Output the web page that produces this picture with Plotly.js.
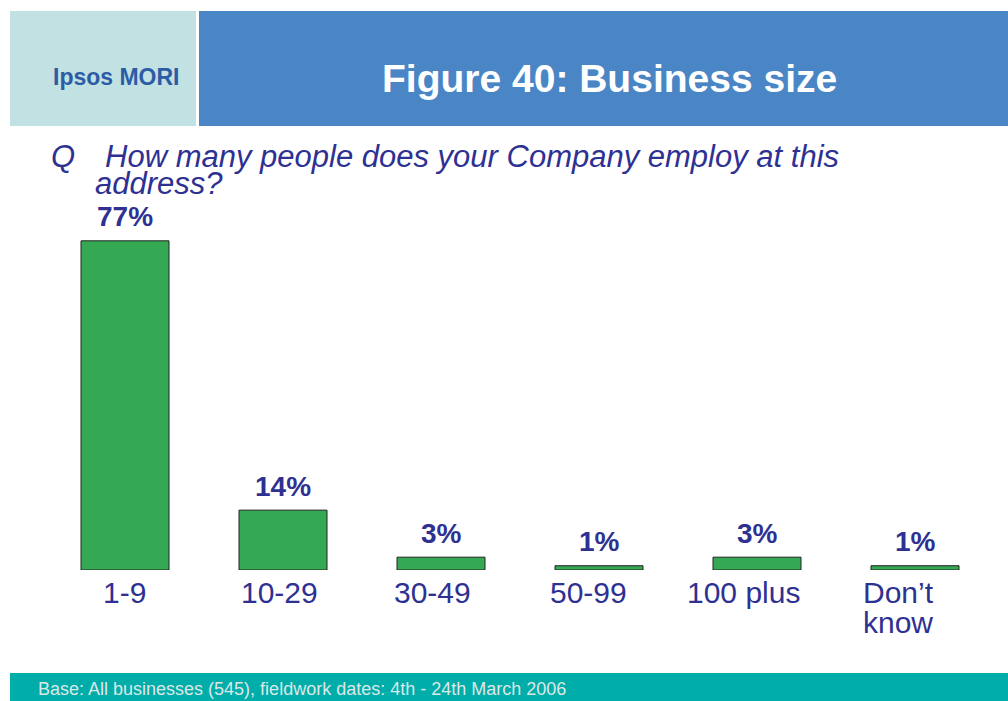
<!DOCTYPE html>
<html>
<head>
<meta charset="utf-8">
<script src="https://cdn.plot.ly/plotly-3.0.1.min.js"></script>
<style>html,body{margin:0;padding:0;background:#fff;}#chart{width:1008px;height:701px;}</style>
</head>
<body>
<div id="chart"></div>
<script>
const categories = ["1-9", "10-29", "30-49", "50-99", "100 plus", "Don’t know"];
const tickLabels = [["1-9"], ["10-29"], ["30-49"], ["50-99"], ["100 plus"], ["Don’t", "know"]];
const values = [77, 14, 3, 1, 3, 1];
const labels = values.map(v => v + "%");

// style: horizontal nudges of category labels (as placed on the original slide)
const labelShift = [-1, -4, -9, -11, -14, -17];

const W = 1008, H = 701;
const px = x => x / W;
const py = y => (H - y) / H;
const ink = "#2E3192";
const FONT = "Liberation Sans, Arial, sans-serif";

const trace = {
  type: "bar",
  x: categories,
  y: values,
  marker: {color: "#34A853", line: {color: "#222222", width: 1}},
  hoverinfo: "skip"
};

const annotations = categories.map((c, i) => ({
  x: c, y: values[i], xref: "x", yref: "y",
  text: "<b>" + labels[i] + "</b>", showarrow: false,
  yanchor: "middle", yshift: 24,
  font: {family: FONT, size: 28, color: ink}
}));

categories.forEach((c, i) => {
  tickLabels[i].forEach((line, j) => {
    annotations.push({
      x: c, y: 0, xref: "x", yref: "y",
      text: line, showarrow: false,
      xanchor: "center", yanchor: "middle",
      xshift: labelShift[i], yshift: -22 - 30 * j,
      font: {family: FONT, size: 30, color: ink}
    });
  });
});

annotations.push(
  {xref: "paper", yref: "paper", x: px(609), y: py(78), text: "<b>Figure 40: Business size</b>",
   showarrow: false, xanchor: "center", yanchor: "middle",
   font: {family: FONT, size: 39, color: "#ffffff"}},
  {xref: "paper", yref: "paper", x: px(116), y: py(77), text: "<b>Ipsos MORI</b>",
   showarrow: false, xanchor: "center", yanchor: "middle",
   font: {family: FONT, size: 23, color: "#2D5CA6"}},
  {xref: "paper", yref: "paper", x: px(49), y: py(157), text: "<i>Q</i>",
   showarrow: false, xanchor: "left", yanchor: "middle",
   font: {family: FONT, size: 31, color: ink}},
  {xref: "paper", yref: "paper", x: px(103), y: py(157), text: "<i>How many people does your Company employ at this</i>",
   showarrow: false, xanchor: "left", yanchor: "middle",
   font: {family: FONT, size: 31, color: ink}},
  {xref: "paper", yref: "paper", x: px(93), y: py(184), text: "<i>address?</i>",
   showarrow: false, xanchor: "left", yanchor: "middle",
   font: {family: FONT, size: 31, color: ink}},
  {xref: "paper", yref: "paper", x: px(36), y: py(689), text: "Base: All businesses (545), fieldwork dates: 4th - 24th March 2006",
   showarrow: false, xanchor: "left", yanchor: "middle",
   font: {family: FONT, size: 18, color: "#DCE8E8"}}
);

const shapes = [
  {type: "rect", xref: "paper", yref: "paper", x0: px(10), x1: px(196), y0: py(126), y1: py(11),
   fillcolor: "#C2E1E2", line: {width: 0}, layer: "below"},
  {type: "rect", xref: "paper", yref: "paper", x0: px(199), x1: 1, y0: py(126), y1: py(11),
   fillcolor: "#4A86C5", line: {width: 0}, layer: "below"},
  {type: "rect", xref: "paper", yref: "paper", x0: px(10), x1: 1, y0: 0, y1: py(673),
   fillcolor: "#00ADA9", line: {width: 0}, layer: "below"}
];

const layout = {
  width: W, height: H,
  margin: {l: 0, r: 0, t: 0, b: 0},
  paper_bgcolor: "#ffffff", plot_bgcolor: "rgba(0,0,0,0)",
  showlegend: false,
  bargap: 0.443,
  xaxis: {
    domain: [px(46), px(994)],
    showgrid: false, zeroline: false, showline: false, ticks: "",
    showticklabels: false,
    fixedrange: true
  },
  yaxis: {
    domain: [py(570), py(228)],
    range: [0, 80],
    visible: false, showgrid: false, zeroline: false,
    fixedrange: true
  },
  annotations: annotations,
  shapes: shapes
};

Plotly.newPlot("chart", [trace], layout, {displayModeBar: false, staticPlot: true});
</script>
</body>
</html>
